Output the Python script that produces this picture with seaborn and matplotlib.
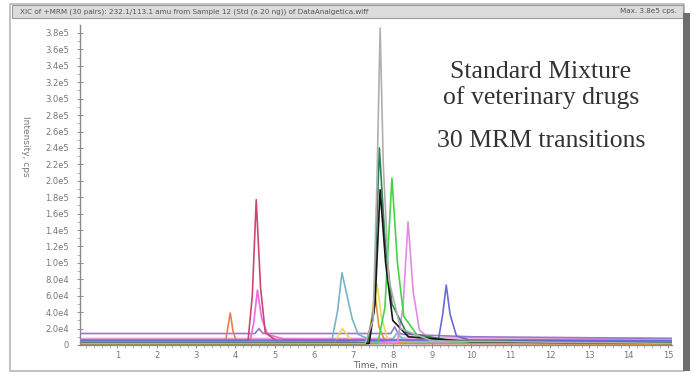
import numpy as np
import pandas as pd
import matplotlib
matplotlib.use("Agg")
import matplotlib.pyplot as plt
import seaborn as sns
from matplotlib.patches import Rectangle
from matplotlib.ticker import FixedLocator, MultipleLocator

# ---- data (time in min, intensity in units of 1e5 cps) ----
gray_t = [0.05, 7.30, 7.50, 7.60, 7.68, 7.76, 7.90, 8.20, 9.00, 15.1]
gray_y = [0.02, 0.02, 0.30, 2.00, 3.86, 2.20, 0.80, 0.20, 0.05, 0.02]

dkgreen_t = [0.05, 7.35, 7.52, 7.66, 7.80, 7.98, 8.35, 9.50, 15.1]
dkgreen_y = [0.03, 0.03, 0.40, 2.40, 1.30, 0.50, 0.15, 0.05, 0.03]

black_t = [0.05, 7.40, 7.55, 7.68, 7.82, 8.00, 8.40, 10.0, 15.1]
black_y = [0.02, 0.02, 0.50, 1.89, 1.00, 0.30, 0.10, 0.04, 0.02]

green_t = [0.05, 7.62, 7.80, 7.98, 8.12, 8.28, 8.65, 9.50, 15.1]
green_y = [0.02, 0.02, 0.45, 2.03, 1.00, 0.35, 0.10, 0.04, 0.02]

violet_t = [0.05, 8.12, 8.26, 8.39, 8.52, 8.68, 9.05, 15.1]
violet_y = [0.03, 0.03, 0.45, 1.50, 0.65, 0.18, 0.04, 0.03]

crimson_t = [0.05, 4.32, 4.43, 4.53, 4.64, 4.76, 5.05, 15.1]
crimson_y = [0.04, 0.04, 0.60, 1.77, 0.70, 0.15, 0.05, 0.04]

magenta_t = [0.05, 4.38, 4.47, 4.56, 4.67, 4.82, 5.25, 15.1]
magenta_y = [0.06, 0.06, 0.28, 0.67, 0.32, 0.13, 0.07, 0.06]

orange_red_t = [0.05, 3.74, 3.81, 3.87, 3.94, 4.04, 15.1]
orange_red_y = [0.01, 0.01, 0.22, 0.39, 0.17, 0.02, 0.01]

teal_t = [0.05, 6.45, 6.60, 6.71, 6.83, 6.97, 7.12, 7.45, 15.1]
teal_y = [0.05, 0.05, 0.42, 0.88, 0.62, 0.32, 0.13, 0.06, 0.05]

yellow_t = [0.05, 6.52, 6.63, 6.72, 6.83, 6.98, 7.40, 7.50, 7.60, 7.71, 7.88, 15.1]
yellow_y = [0.02, 0.02, 0.13, 0.20, 0.13, 0.03, 0.05, 0.40, 0.75, 0.35, 0.05, 0.02]

orange_t = [0.05, 7.33, 7.45, 7.55, 7.65, 7.82, 15.1]
orange_y = [0.01, 0.01, 0.27, 0.62, 0.22, 0.03, 0.01]

blue_t = [0.05, 9.16, 9.27, 9.36, 9.46, 9.62, 9.95, 15.1]
blue_y = [0.06, 0.06, 0.37, 0.73, 0.37, 0.11, 0.06, 0.05]

cyan_t = [0.05, 7.95, 8.05, 8.12, 8.20, 8.35, 15.1]
cyan_y = [0.03, 0.03, 0.10, 0.16, 0.10, 0.04, 0.03]

purple_t = [0.05, 4.50, 4.60, 4.70, 7.95, 8.05, 8.12, 8.25, 10.0, 15.1]
purple_y = [0.14, 0.14, 0.20, 0.14, 0.14, 0.22, 0.16, 0.13, 0.10, 0.08]

pink_base_t = [0.05, 8.00, 8.10, 8.20, 15.1]
pink_base_y = [0.08, 0.08, 0.14, 0.09, 0.08]

trace_names = ["pink_base", "purple", "orange_red", "magenta", "crimson", "teal",
               "yellow", "orange", "cyan", "blue", "violet", "green",
               "dkgreen", "black", "gray"]
trace_times = [pink_base_t, purple_t, orange_red_t, magenta_t, crimson_t, teal_t,
               yellow_t, orange_t, cyan_t, blue_t, violet_t, green_t,
               dkgreen_t, black_t, gray_t]
trace_vals = [pink_base_y, purple_y, orange_red_y, magenta_y, crimson_y, teal_y,
              yellow_y, orange_y, cyan_y, blue_y, violet_y, green_y,
              dkgreen_y, black_y, gray_y]
trace_colors = ["#e9a6dc", "#9a78c8", "#f07a58", "#f06ad8", "#c94870", "#78b4c8",
                "#e6d85a", "#d49a30", "#60d0d0", "#6a6ad8", "#e48ae4", "#44d444",
                "#2f7f50", "#151515", "#b0b0b0"]

ytick_vals = [0, 2.0e4, 4.0e4, 6.0e4, 8.0e4, 1.0e5, 1.2e5, 1.4e5, 1.6e5, 1.8e5,
              2.0e5, 2.2e5, 2.4e5, 2.6e5, 2.8e5, 3.0e5, 3.2e5, 3.4e5, 3.6e5, 3.8e5]
ytick_labels = ["0", "2.0e4", "4.0e4", "6.0e4", "8.0e4", "1.0e5", "1.2e5", "1.4e5",
                "1.6e5", "1.8e5", "2.0e5", "2.2e5", "2.4e5", "2.6e5", "2.8e5",
                "3.0e5", "3.2e5", "3.4e5", "3.6e5", "3.8e5"]
xtick_vals = list(range(1, 16))

header_left = "XIC of +MRM (30 pairs): 232.1/113.1 amu from Sample 12 (Std (a 20 ng)) of DataAnalgetica.wiff"
header_right = "Max. 3.8e5 cps."
annot_lines = ["Standard Mixture", "of veterinary drugs", "30 MRM transitions"]

# ---- build long table ----
rows = []
for name, tt, vv in zip(trace_names, trace_times, trace_vals):
    for i, (t, v) in enumerate(zip(tt, vv)):
        rows.append({"trace": name, "order": i, "time": t, "intensity": v * 1e5})
df = pd.DataFrame(rows)

sns.set_theme(style="white")
plt.rcParams["font.family"] = ["DejaVu Sans"]

W, H = 695, 374
fig = plt.figure(figsize=(W / 100, H / 100), dpi=100)
fig.patch.set_facecolor("white")

def fx(px):
    return px / W

def fy(py):
    return 1 - py / H

# window frame
fig.patches.append(Rectangle((fx(10), fy(371)), fx(674), 367 / H,
                             transform=fig.transFigure, fill=False,
                             edgecolor="#b8b8b8", linewidth=1.2))
fig.patches.append(Rectangle((fx(12), fy(18)), fx(671), 13 / H,
                             transform=fig.transFigure, facecolor="#dcdcdc",
                             edgecolor="#9a9a9a", linewidth=0.8))
fig.patches.append(Rectangle((fx(683), fy(371)), fx(7), 358 / H,
                             transform=fig.transFigure, facecolor="#6e6e6e",
                             edgecolor="none"))
fig.text(fx(20), fy(11.5), header_left, fontsize=5.2, color="#555555", va="center", ha="left")
fig.text(fx(677), fy(11.5), header_right, fontsize=5.2, color="#555555", va="center", ha="right")

ax = fig.add_axes([fx(80), fy(345), fx(672 - 80), (345 - 25) / H])
sns.lineplot(data=df, x="time", y="intensity", hue="trace", units="trace",
             palette=dict(zip(trace_names, trace_colors)), hue_order=trace_names,
             sort=False, estimator=None, legend=False, linewidth=1.2, ax=ax)

ax.set_xlim(0.05, 15.1)
ax.set_ylim(0, 3.8e5 * (345 - 25) / (345 - 33))
ax.yaxis.set_major_locator(FixedLocator(ytick_vals))
ax.set_yticklabels(ytick_labels)
ax.xaxis.set_major_locator(FixedLocator(xtick_vals))
ax.set_xticklabels([str(v) for v in xtick_vals])
ax.xaxis.set_minor_locator(MultipleLocator(0.2))
ax.yaxis.set_minor_locator(MultipleLocator(1.0e4))
ax.tick_params(axis="both", which="major", labelsize=6, colors="#777777",
               direction="inout", length=4, width=0.6, pad=2, bottom=True, left=True)
ax.tick_params(axis="both", which="minor", direction="out", length=2,
               width=0.5, colors="#999999", bottom=True, left=True)
ax.tick_params(axis="y", which="major", pad=6)
for s in ["top", "right"]:
    ax.spines[s].set_visible(False)
for s in ["left", "bottom"]:
    ax.spines[s].set_color("#8a8a8a")
    ax.spines[s].set_linewidth(1.0)
ax.set_xlabel("Time, min", fontsize=6.5, color="#666666", labelpad=1)
ax.set_ylabel("Intensity, cps", fontsize=6.5, color="#777777", rotation=270,
              labelpad=8, va="bottom")
ax.yaxis.set_label_coords(-0.1, 0.62)
ax.set_facecolor("white")

for txt, py in zip(annot_lines, [72, 98, 141]):
    fig.text(fx(541), fy(py), txt, fontsize=18.5, family="Liberation Serif",
             color="#333333", ha="center", va="center")

fig.savefig("out.png", dpi=100)
